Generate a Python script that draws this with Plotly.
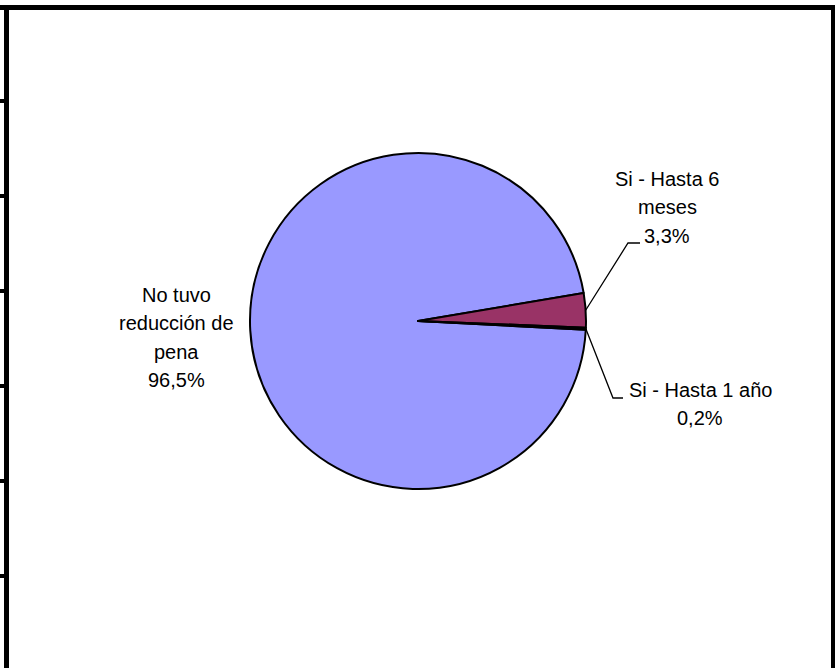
import math
import plotly.graph_objects as go

# Reducción de pena: distribución de casos
categories = ["No tuvo reducción de pena", "Si - Hasta 6 meses", "Si - Hasta 1 año"]
values = [96.5, 3.3, 0.2]
value_labels = ["96,5%", "3,3%", "0,2%"]
label_lines = [
    ["No tuvo", "reducción de", "pena", "96,5%"],
    ["Si - Hasta 6", "meses", "3,3%"],
    ["Si - Hasta 1 año", "0,2%"],
]
colors = ["#9999FF", "#993366", "#FFFFCC"]

W, H = 835, 668
CX, CY, R = 418, 321, 168
ROTATION = 93
FONT = "Liberation Sans, Arial, sans-serif"
FONT_SIZE = 20
LINE_STEP = 28.3


def px(x):
    return x / W


def py(y):
    return 1 - y / H


fig = go.Figure(
    go.Pie(
        labels=categories,
        values=values,
        sort=False,
        direction="clockwise",
        rotation=ROTATION,
        marker=dict(colors=colors, line=dict(color="#000000", width=2)),
        textinfo="none",
        hoverinfo="label+percent",
        showlegend=False,
        domain=dict(x=[px(CX - R), px(CX + R)], y=[py(CY + R), py(CY - R)]),
    )
)

# slice mid-angles (clockwise from 12 o'clock) for the leader lines
total = sum(values)
mids = []
acc = ROTATION
for v in values:
    ang = 360 * v / total
    mids.append(acc + ang / 2)
    acc += ang


def edge_point(theta_deg):
    t = math.radians(theta_deg)
    return CX + R * math.sin(t), CY - R * math.cos(t)


shapes = []
annotations = []

# label blocks: (center x, first line middle y)
label_pos = [(176, 295), (667, 179), (700, 390)]
for (lx, ly), lines in zip(label_pos, label_lines):
    for i, line in enumerate(lines):
        annotations.append(dict(
            x=px(lx), y=py(ly + i * LINE_STEP), xref="paper", yref="paper",
            text=line, showarrow=False, xanchor="center", yanchor="middle",
            font=dict(family=FONT, size=FONT_SIZE, color="#000000"),
        ))

# leader lines: slice edge -> elbow -> short horizontal run
leaders = {1: ((628, 243), (640, 243)), 2: ((613, 398), (623, 398))}
for idx, (elbow, end) in leaders.items():
    sx, sy = edge_point(mids[idx])
    path = f"M {px(sx)} {py(sy)} L {px(elbow[0])} {py(elbow[1])} L {px(end[0])} {py(end[1])}"
    shapes.append(dict(type="path", xref="paper", yref="paper", path=path,
                       line=dict(color="#000000", width=1.3)))

# chart frame
frame = [
    (0, 5, W, 10),      # top
    (4, 5, 9, H),       # left
    (831, 5, W, H),     # right
]
for x0, y0, x1, y1 in frame:
    shapes.append(dict(type="rect", xref="paper", yref="paper",
                       x0=px(x0), x1=px(x1), y0=py(y1), y1=py(y0),
                       fillcolor="#000000", line=dict(width=0), layer="above"))
for ty in [101, 196, 291, 386, 481, 576]:
    shapes.append(dict(type="rect", xref="paper", yref="paper",
                       x0=px(0), x1=px(5), y0=py(ty + 2), y1=py(ty - 2),
                       fillcolor="#000000", line=dict(width=0), layer="above"))

fig.update_layout(
    width=W, height=H,
    margin=dict(l=0, r=0, t=0, b=0),
    paper_bgcolor="#FFFFFF", plot_bgcolor="#FFFFFF",
    shapes=shapes, annotations=annotations,
)

fig.write_html("out.html", config={"displayModeBar": False})
